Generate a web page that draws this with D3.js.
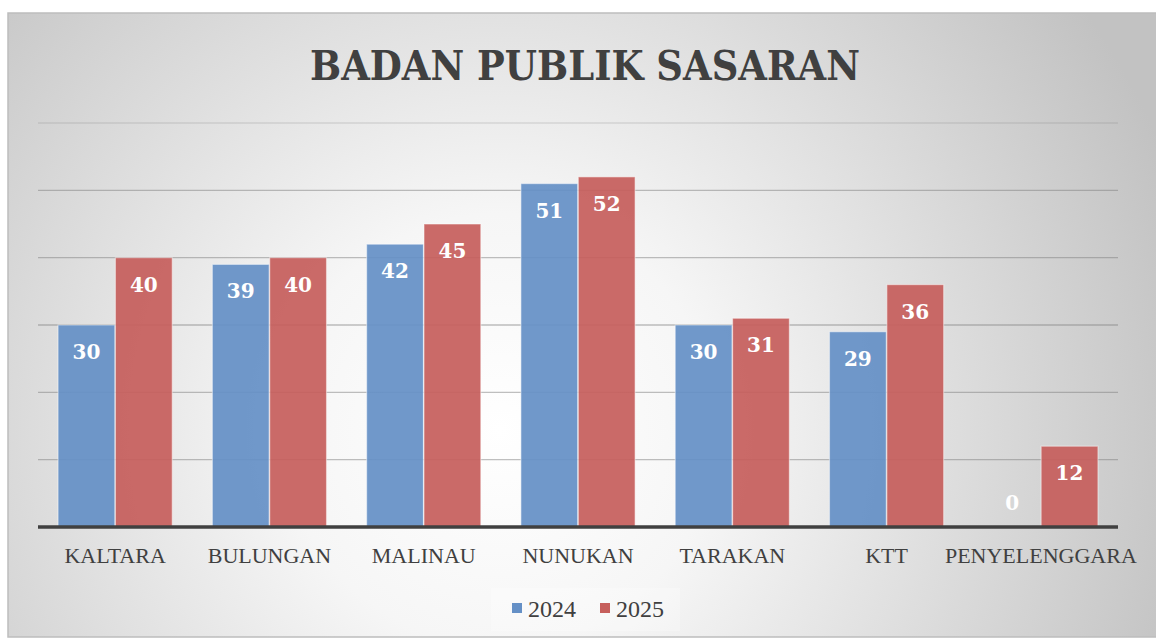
<!DOCTYPE html>
<html>
<head>
<meta charset="utf-8">
<script src="https://cdn.jsdelivr.net/npm/d3@7"></script>
<style>
  html, body { margin: 0; padding: 0; background: #fff; }
  svg { display: block; }
</style>
</head>
<body>
<svg id="chart"></svg>
<script>
// data
var categories = ["KALTARA", "BULUNGAN", "MALINAU", "NUNUKAN", "TARAKAN", "KTT", "PENYELENGGARA"];
var values2024 = [30, 39, 42, 51, 30, 29, 0];
var values2025 = [40, 40, 45, 52, 31, 36, 12];
var seriesNames = ["2024", "2025"];
var yTicks = [0, 10, 20, 30, 40, 50, 60];

var colors = { "2024": "#6590c6", "2025": "#c65f5c" };

var size = { width: 1156, height: 639 };
var margin = { top: 123, right: 38, bottom: 112, left: 38 };
var width = size.width - margin.left - margin.right;
var height = size.height - margin.top - margin.bottom;

var svg = d3.select("#chart")
  .attr("width", size.width)
  .attr("height", size.height);

// background panel with radial gradient
var defs = svg.append("defs");
var grad = defs.append("radialGradient")
  .attr("id", "bg")
  .attr("gradientUnits", "userSpaceOnUse")
  .attr("cx", 500).attr("cy", 430).attr("r", 720);
grad.append("stop").attr("offset", "0%").attr("stop-color", "#ffffff");
grad.append("stop").attr("offset", "30%").attr("stop-color", "#f6f6f6");
grad.append("stop").attr("offset", "100%").attr("stop-color", "#c2c2c2");

svg.append("rect")
  .attr("x", 8).attr("y", 13)
  .attr("width", size.width).attr("height", 624)
  .attr("fill", "url(#bg)")
  .attr("stroke", "#bdbdbd")
  .attr("stroke-width", 1.5);

// title
svg.append("text")
  .attr("x", 585).attr("y", 80)
  .attr("text-anchor", "middle")
  .attr("font-family", "'DejaVu Serif', serif")
  .attr("font-weight", "bold")
  .attr("font-size", 41)
  .attr("fill", "#404040")
  .attr("textLength", 550)
  .attr("lengthAdjust", "spacingAndGlyphs")
  .text("BADAN PUBLIK SASARAN");

var g = svg.append("g")
  .attr("transform", "translate(" + margin.left + "," + margin.top + ")");

var x0 = d3.scaleBand()
  .domain(categories)
  .range([0, width])
  .paddingInner(0.26)
  .paddingOuter(0.13);

var x1 = d3.scaleBand()
  .domain(seriesNames)
  .range([0, x0.bandwidth()])
  .paddingInner(0.01);

var y = d3.scaleLinear()
  .domain([0, 60])
  .range([height, 0]);

// gridlines
g.append("g")
  .selectAll("line")
  .data(yTicks.filter(function(d){ return d > 0; }))
  .enter()
  .append("line")
  .attr("x1", 0).attr("x2", width)
  .attr("y1", function(d){ return y(d); })
  .attr("y2", function(d){ return y(d); })
  .attr("stroke", "#7f7f7f")
  .attr("stroke-opacity", function(d){ return d === 60 ? 0.22 : 0.5; })
  .attr("stroke-width", 1.3);

// bars
var rows = categories.map(function(c, i){
  return { cat: c, vals: [
    { key: "2024", v: values2024[i] },
    { key: "2025", v: values2025[i] }
  ]};
});

var groups = g.selectAll(".grp")
  .data(rows)
  .enter()
  .append("g")
  .attr("class", "grp")
  .attr("transform", function(d){ return "translate(" + x0(d.cat) + ",0)"; });

groups.selectAll("rect")
  .data(function(d){ return d.vals; })
  .enter()
  .append("rect")
  .attr("x", function(d){ return x1(d.key); })
  .attr("y", function(d){ return y(d.v); })
  .attr("width", x1.bandwidth())
  .attr("height", function(d){ return height - y(d.v); })
  .attr("fill", function(d){ return colors[d.key]; })
  .attr("fill-opacity", function(d){ return d.v > 0 ? 0.93 : 0; })
  .attr("stroke", "#ffffff")
  .attr("stroke-opacity", function(d){ return d.v > 0 ? 0.45 : 0; })
  .attr("stroke-width", 1.2);

// value labels
groups.selectAll("text")
  .data(function(d){ return d.vals; })
  .enter()
  .append("text")
  .attr("x", function(d){ return x1(d.key) + x1.bandwidth() / 2; })
  .attr("y", function(d){ return Math.min(y(d.v) + 27, height - 24); })
  .attr("dy", "0.35em")
  .attr("text-anchor", "middle")
  .attr("font-family", "'DejaVu Serif', serif")
  .attr("font-weight", "bold")
  .attr("font-size", 20)
  .attr("fill", "#ffffff")
  .text(function(d){ return d.v; });

// x axis baseline
g.append("line")
  .attr("x1", 0).attr("x2", width)
  .attr("y1", height).attr("y2", height)
  .attr("stroke", "#404040")
  .attr("stroke-width", 3.5);

// category labels
var xAxis = d3.axisBottom(x0).tickSize(0).tickPadding(20);
var ax = g.append("g")
  .attr("transform", "translate(0," + height + ")")
  .call(xAxis);
ax.select(".domain").remove();
ax.selectAll("text")
  .attr("font-family", "'Liberation Serif', serif")
  .attr("font-size", 22)
  .attr("fill", "#404040");

// legend
var legend = svg.append("g");
legend.append("rect")
  .attr("x", 491).attr("y", 588)
  .attr("width", 189).attr("height", 43)
  .attr("fill", "#ffffff").attr("fill-opacity", 0.25);

var legX = [512, 600];
seriesNames.forEach(function(s, i){
  legend.append("rect")
    .attr("x", legX[i]).attr("y", 603)
    .attr("width", 10).attr("height", 10)
    .attr("fill", colors[s]);
  legend.append("text")
    .attr("x", legX[i] + 16).attr("y", 617)
    .attr("font-family", "'Liberation Serif', serif")
    .attr("font-size", 24)
    .attr("fill", "#404040")
    .text(s);
});
</script>
</body>
</html>
